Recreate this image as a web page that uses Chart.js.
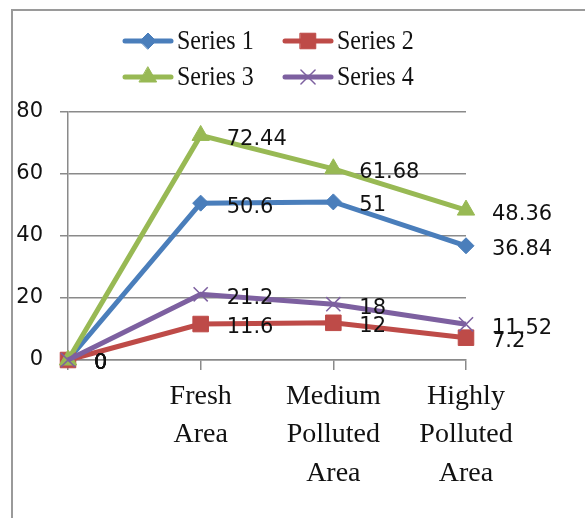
<!DOCTYPE html>
<html>
<head>
<meta charset="utf-8">
<script src="https://cdn.jsdelivr.net/npm/chart.js@4/dist/chart.umd.min.js"></script>
<style>
  html, body { margin: 0; padding: 0; background: #fff; }
  #wrap { width: 585px; height: 518px; position: relative; }
</style>
</head>
<body>
<div id="wrap"><canvas id="c" width="585" height="518"></canvas></div>
<script>
// Sampling sites and measured values per series
const categories = ['', ['Fresh', 'Area'], ['Medium', 'Polluted', 'Area'], ['Highly', 'Polluted', 'Area']];
const seriesNames = ['Series 1', 'Series 2', 'Series 3', 'Series 4'];
const series1 = [0, 50.6, 51, 36.84];
const series2 = [0, 11.6, 12, 7.2];
const series3 = [0, 72.44, 61.68, 48.36];
const series4 = [0, 21.2, 18, 11.52];
const yTickValues = [0, 20, 40, 60, 80];

const COLORS = ['#4A7EBB', '#BE4B48', '#98B954', '#7D60A0'];
const STYLES = [
  { pointStyle: 'rectRot', radius: 8, bw: 1 },
  { pointStyle: 'rect', radius: 11, bw: 1 },
  { pointStyle: 'triangle', radius: 10, bw: 1 },
  { pointStyle: 'crossRot', radius: 10, bw: 1.5 }
];
const NUM_FONT = '21px "DejaVu Sans", sans-serif';
const SERIF = '"Liberation Serif", "Times New Roman", serif';

const seriesValues = [series1, series2, series3, series4];

const datasets = seriesValues.map((vals, i) => ({
  label: seriesNames[i],
  data: vals,
  borderColor: COLORS[i],
  backgroundColor: COLORS[i],
  borderWidth: 5,
  pointStyle: STYLES[i].pointStyle,
  pointRadius: STYLES[i].radius,
  pointHoverRadius: STYLES[i].radius,
  pointBorderWidth: STYLES[i].bw,
  pointBackgroundColor: COLORS[i],
  pointBorderColor: COLORS[i],
  tension: 0,
  clip: false,
  order: 4 - i
}));

// White background with the grey frame on the left and top
const framePlugin = {
  id: 'frame',
  beforeDraw(chart) {
    const ctx = chart.ctx;
    ctx.save();
    ctx.fillStyle = '#fff';
    ctx.fillRect(0, 0, chart.width, chart.height);
    ctx.strokeStyle = '#9a9a9a';
    ctx.lineWidth = 2;
    ctx.beginPath();
    ctx.moveTo(12, chart.height);
    ctx.lineTo(12, 10);
    ctx.lineTo(chart.width, 10);
    ctx.stroke();
    ctx.restore();
  }
};

// Two-by-two legend with line + marker samples
const legendPlugin = {
  id: 'legend2x2',
  afterDraw(chart) {
    const ctx = chart.ctx;
    const cols = [123, 283];
    const rows = [41, 77];
    ctx.save();
    chart.data.datasets.forEach((ds, i) => {
      const x = cols[i % 2];
      const y = rows[Math.floor(i / 2)];
      ctx.strokeStyle = ds.borderColor;
      ctx.fillStyle = ds.borderColor;
      ctx.lineWidth = 5;
      ctx.lineCap = 'round';
      ctx.beginPath();
      ctx.moveTo(x + 2, y);
      ctx.lineTo(x + 48, y);
      ctx.stroke();
      ctx.lineWidth = ds.pointBorderWidth;
      Chart.helpers.drawPoint(ctx, {
        pointStyle: ds.pointStyle,
        radius: ds.pointRadius,
        rotation: 0,
        borderWidth: ds.pointBorderWidth
      }, x + 25, y);
      // slightly tall serif text
      ctx.save();
      ctx.translate(x + 54, y + 1);
      ctx.scale(1, 1.12);
      ctx.fillStyle = '#111';
      ctx.font = '24px ' + SERIF;
      ctx.textAlign = 'left';
      ctx.textBaseline = 'middle';
      ctx.fillText(ds.label, 0, 0);
      ctx.restore();
    });
    ctx.restore();
  }
};

// Value labels placed to the right of each point
const valueLabelPlugin = {
  id: 'valueLabels',
  afterDatasetsDraw(chart) {
    const ctx = chart.ctx;
    ctx.save();
    ctx.font = NUM_FONT;
    ctx.fillStyle = '#111';
    ctx.textAlign = 'left';
    ctx.textBaseline = 'middle';
    chart.data.datasets.forEach((ds, i) => {
      const meta = chart.getDatasetMeta(i);
      meta.data.forEach((pt, j) => {
        ctx.fillText(String(ds.data[j]), pt.x + 26, pt.y + 4);
      });
    });
    ctx.restore();
  }
};

new Chart(document.getElementById('c'), {
  type: 'line',
  data: { labels: categories, datasets },
  plugins: [framePlugin, legendPlugin, valueLabelPlugin],
  options: {
    responsive: false,
    animation: false,
    devicePixelRatio: 1,
    layout: { padding: { top: 112, left: 0, right: 119, bottom: 0 } },
    plugins: { legend: { display: false }, tooltip: { enabled: false } },
    scales: {
      x: {
        offset: false,
        grid: { drawOnChartArea: false, drawTicks: true, tickLength: 10, color: '#8a8a8a', lineWidth: 1.5 },
        border: { color: '#8a8a8a', width: 1.5 },
        ticks: {
          font: { family: SERIF, size: 28, lineHeight: 1.36 },
          color: '#111',
          padding: 8,
          maxRotation: 0,
          autoSkip: false
        },
        afterFit(scale) { scale.height = 158; }
      },
      y: {
        min: 0,
        max: 80,
        afterBuildTicks(scale) { scale.ticks = yTickValues.map(v => ({ value: v })); },
        grid: { color: '#8a8a8a', lineWidth: 1.5, tickLength: 8 },
        border: { color: '#8a8a8a', width: 1.5 },
        ticks: {
          font: { family: '"DejaVu Sans", sans-serif', size: 21 },
          color: '#111',
          padding: 17
        },
        afterFit(scale) { scale.width = 68; }
      }
    }
  }
});
</script>
</body>
</html>
